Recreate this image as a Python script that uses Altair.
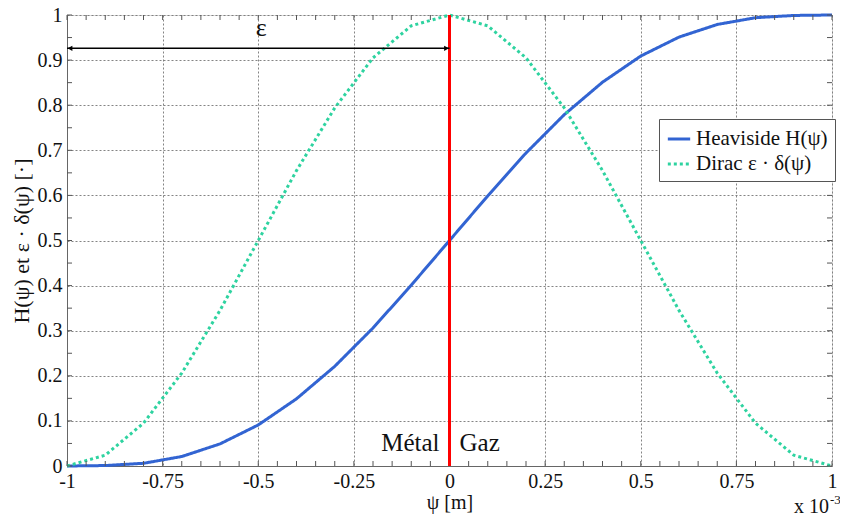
import altair as alt
import pandas as pd

# ---- data ----
psi = [-1.0, -0.9, -0.8, -0.7, -0.6, -0.5, -0.4, -0.3, -0.2, -0.1, 0.0,
       0.1, 0.2, 0.3, 0.4, 0.5, 0.6, 0.7, 0.8, 0.9, 1.0]
heaviside = [0.0, 0.001, 0.006, 0.021, 0.049, 0.091, 0.149, 0.221, 0.306, 0.401, 0.5,
             0.599, 0.694, 0.779, 0.851, 0.909, 0.951, 0.979, 0.994, 0.999, 1.0]
dirac = [0.0, 0.024, 0.095, 0.206, 0.345, 0.5, 0.655, 0.794, 0.905, 0.976, 1.0,
         0.976, 0.905, 0.794, 0.655, 0.5, 0.345, 0.206, 0.095, 0.024, 0.0]
series_names = ["Heaviside H(ψ)", "Dirac ε · δ(ψ)"]
series_colors = ["#3264d2", "#2ed3a0"]

x_ticks = [-1.0, -0.75, -0.5, -0.25, 0.0, 0.25, 0.5, 0.75, 1.0]
y_ticks = [0.0, 0.1, 0.2, 0.3, 0.4, 0.5, 0.6, 0.7, 0.8, 0.9, 1.0]
x_minor = [round(-1 + 0.05 * i, 2) for i in range(41)]
y_minor = [round(0.05 * i, 2) for i in range(21)]

interface_x = [0.0]
eps_arrow = {"x1": [-1.0], "x2": [0.0], "y": [0.926]}
eps_label = {"x": [-0.5], "y": [0.953], "t": ["ε"]}
phase_labels = {"x": [0.0, 0.0], "y": [0.033, 0.033], "t": ["Métal", "Gaz"]}

W, H = 765, 451
FONT = "Liberation Serif"

df = pd.DataFrame({
    "x": psi * 2,
    "v": heaviside + dirac,
    "series": [series_names[0]] * len(psi) + [series_names[1]] * len(psi),
})

xscale = alt.Scale(domain=[-1, 1], nice=False, zero=False)
yscale = alt.Scale(domain=[0, 1], nice=False)

legend_kw = dict(title=None, orient="none", legendX=592, legendY=104,
                 fillColor="white", strokeColor="#555", padding=7,
                 labelFont=FONT, labelFontSize=21, labelColor="#111",
                 symbolType="stroke", symbolSize=500,
                 symbolStrokeWidth=3, rowPadding=2)

lines = alt.Chart(df).mark_line(strokeWidth=3).encode(
    x=alt.X("x:Q", scale=xscale, axis=alt.Axis(
        values=x_ticks, labelExpr="'' + datum.value", title="ψ [m]",
        grid=True, gridDash=[2, 2], gridColor="#777", gridOpacity=0.9,
        ticks=False, domainColor="#666", labelFont=FONT, labelFontSize=20,
        labelColor="#111", labelPadding=5, titleFont=FONT, titleFontSize=20,
        titleFontWeight="normal", titleColor="#111", titlePadding=1,
        labelFlush=False)),
    y=alt.Y("v:Q", scale=yscale, axis=alt.Axis(
        values=y_ticks, labelExpr="'' + datum.value", title="H(ψ) et ε · δ(ψ) [·]",
        grid=True, gridDash=[2, 2], gridColor="#777", gridOpacity=0.9,
        ticks=False, domainColor="#666", labelFont=FONT, labelFontSize=20,
        labelColor="#111", labelPadding=5, titleFont=FONT, titleFontSize=22,
        titleFontWeight="normal", titleColor="#111", titlePadding=4,
        labelFlush=False)),
    color=alt.Color("series:N", scale=alt.Scale(domain=series_names, range=series_colors),
                    sort=series_names, legend=alt.Legend(**legend_kw)),
    strokeDash=alt.StrokeDash("series:N", scale=alt.Scale(domain=series_names, range=[[1, 0], [3, 3]]),
                              sort=series_names, legend=alt.Legend(**legend_kw)),
    order=alt.Order("x:Q"),
)

tick_color = "#555"
xm = pd.DataFrame({"x": x_minor})
ym = pd.DataFrame({"y": y_minor})
ticks_bottom = alt.Chart(xm).mark_rule(color=tick_color).encode(
    x=alt.X("x:Q", scale=xscale), y=alt.value(H), y2=alt.value(H - 5))
ticks_top = alt.Chart(xm).mark_rule(color=tick_color).encode(
    x=alt.X("x:Q", scale=xscale), y=alt.value(0), y2=alt.value(5))
ticks_left = alt.Chart(ym).mark_rule(color=tick_color).encode(
    y=alt.Y("y:Q", scale=yscale), x=alt.value(0), x2=alt.value(5))
ticks_right = alt.Chart(ym).mark_rule(color=tick_color).encode(
    y=alt.Y("y:Q", scale=yscale), x=alt.value(W), x2=alt.value(W - 5))

red = alt.Chart(pd.DataFrame({"x": interface_x, "y0": [0.0], "y1": [1.0]})).mark_rule(
    color="#ff0000", strokeWidth=3).encode(
    x=alt.X("x:Q", scale=xscale), y=alt.Y("y0:Q", scale=yscale), y2="y1:Q")

adf = pd.DataFrame(eps_arrow)
arrow_line = alt.Chart(adf).mark_rule(color="black", strokeWidth=1.5).encode(
    x=alt.X("x1:Q", scale=xscale), x2="x2:Q", y=alt.Y("y:Q", scale=yscale))
arrow_left = alt.Chart(adf).mark_point(shape="triangle-left", filled=True, color="black",
                                       size=30, opacity=1, xOffset=3).encode(
    x=alt.X("x1:Q", scale=xscale), y=alt.Y("y:Q", scale=yscale))
arrow_right = alt.Chart(adf).mark_point(shape="triangle-right", filled=True, color="black",
                                        size=30, opacity=1, xOffset=-3).encode(
    x=alt.X("x2:Q", scale=xscale), y=alt.Y("y:Q", scale=yscale))

eps_text = alt.Chart(pd.DataFrame(eps_label)).mark_text(
    font=FONT, fontSize=26, color="#111", baseline="alphabetic", dx=3).encode(
    x=alt.X("x:Q", scale=xscale), y=alt.Y("y:Q", scale=yscale), text="t:N")

pl = pd.DataFrame(phase_labels)
metal = alt.Chart(pl.iloc[[0]]).mark_text(
    font=FONT, fontSize=25, color="#111", align="right", baseline="alphabetic", dx=-10).encode(
    x=alt.X("x:Q", scale=xscale), y=alt.Y("y:Q", scale=yscale), text="t:N")
gaz = alt.Chart(pl.iloc[[1]]).mark_text(
    font=FONT, fontSize=25, color="#111", align="left", baseline="alphabetic", dx=10).encode(
    x=alt.X("x:Q", scale=xscale), y=alt.Y("y:Q", scale=yscale), text="t:N")

mult = alt.Chart(pd.DataFrame({"t": ["x 10"]})).mark_text(
    font=FONT, fontSize=20, color="#111", align="left", baseline="alphabetic").encode(
    x=alt.value(W - 38), y=alt.value(H + 47), text="t:N")
mult_exp = alt.Chart(pd.DataFrame({"t": ["-3"]})).mark_text(
    font=FONT, fontSize=13, color="#111", align="left", baseline="alphabetic").encode(
    x=alt.value(W - 2), y=alt.value(H + 38), text="t:N")

chart = alt.layer(
    lines, ticks_bottom, ticks_top, ticks_left, ticks_right, red,
    arrow_line, arrow_left, arrow_right, eps_text, metal, gaz, mult, mult_exp,
).properties(
    width=W, height=H,
    padding={"left": 59, "top": 7, "right": 8, "bottom": 53},
    autosize=alt.AutoSizeParams(type="none"),
    background="white",
).configure_view(stroke="#666", strokeWidth=1).configure(font=FONT)

chart.save("out.html", embed_options={"renderer": "svg", "actions": False})
